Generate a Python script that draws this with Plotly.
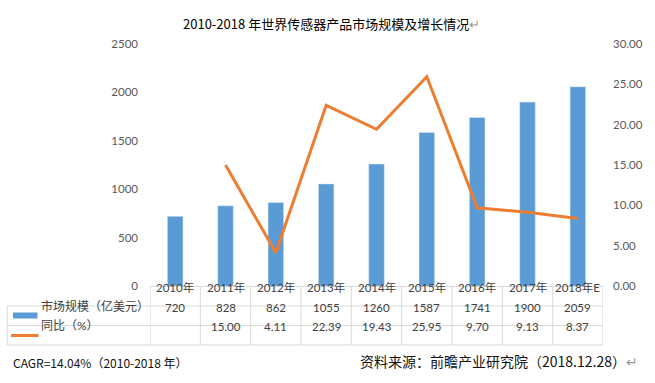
import plotly.graph_objects as go

years = ["2010年", "2011年", "2012年", "2013年", "2014年", "2015年", "2016年", "2017年", "2018年E"]
market = [720, 828, 862, 1055, 1260, 1587, 1741, 1900, 2059]
growth = [None, 15.00, 4.11, 22.39, 19.43, 25.95, 9.70, 9.13, 8.37]
growth_labels = ["", "15.00", "4.11", "22.39", "19.43", "25.95", "9.70", "9.13", "8.37"]
series_names = ["市场规模（亿美元）", "同比（%）"]
title_text = "2010-2018 年世界传感器产品市场规模及增长情况"
cagr_text = "CAGR=14.04%（2010-2018 年）"
source_text = "资料来源：前瞻产业研究院（2018.12.28）"

W, H = 655, 383
L, R, T, B = 150, 42, 44, 97
PW = W - L - R
PH = H - T - B

BLUE = "#5b9bd5"
ORANGE = "#ed7d31"
GRID = "#d9d9d9"
TXT = "#404040"
FONT = "Lato, Noto Sans CJK SC, sans-serif"
CJK = "Noto Sans CJK SC, sans-serif"

def py(px):  # pixel y -> paper y
    return (H - B - px) / PH

def pxp(px):  # pixel x -> paper x
    return (px - L) / PW

fig = go.Figure()
fig.add_trace(go.Bar(x=years, y=market, name=series_names[0], marker_color=BLUE,
                     yaxis="y", showlegend=False))
fig.add_trace(go.Scatter(x=years, y=growth, name=series_names[1], mode="lines",
                         line=dict(color=ORANGE, width=3), yaxis="y2",
                         showlegend=False, connectgaps=False))

shapes = []
top, r1, r2, r3 = 286, 306, 325.5, 345
for yy in (r1, r2, r3):
    shapes.append(dict(type="line", xref="paper", yref="paper", x0=pxp(4), x1=1,
                       y0=py(yy), y1=py(yy), line=dict(color=GRID, width=1)))
for i in range(len(years) + 1):
    shapes.append(dict(type="line", xref="x", yref="paper", x0=i - 0.5, x1=i - 0.5,
                       y0=py(top), y1=py(r3), line=dict(color=GRID, width=1)))
shapes.append(dict(type="line", xref="paper", yref="paper", x0=pxp(4), x1=pxp(4),
                   y0=py(r1), y1=py(r3), line=dict(color=GRID, width=1)))
# legend keys
shapes.append(dict(type="rect", xref="paper", yref="paper", x0=pxp(10), x1=pxp(35),
                   y0=py(318.5), y1=py(312.5), fillcolor=BLUE, line=dict(width=0)))
shapes.append(dict(type="line", xref="paper", yref="paper", x0=pxp(8), x1=pxp(36),
                   y0=py(335.5), y1=py(335.5), line=dict(color=ORANGE, width=3)))

ann = []
for i, yr in enumerate(years):
    ann.append(dict(x=yr, xref="x", y=py((top + r1) / 2), yref="paper", text=yr,
                    showarrow=False, font=dict(size=11.5, color=TXT, family=FONT)))
    ann.append(dict(x=yr, xref="x", y=py((r1 + r2) / 2), yref="paper", text=str(market[i]),
                    showarrow=False, font=dict(size=11.5, color=TXT, family=FONT)))
    ann.append(dict(x=yr, xref="x", y=py((r2 + r3) / 2), yref="paper", text=growth_labels[i],
                    showarrow=False, font=dict(size=11.5, color=TXT, family=FONT)))
ann.append(dict(x=pxp(37), xref="paper", y=py((r1 + r2) / 2), yref="paper", text=series_names[0],
                xanchor="left", showarrow=False, font=dict(size=12, color=TXT, family=FONT)))
ann.append(dict(x=pxp(37), xref="paper", y=py((r2 + r3) / 2), yref="paper", text=series_names[1],
                xanchor="left", showarrow=False, font=dict(size=12, color=TXT, family=FONT)))
# title
ann.append(dict(x=pxp(182), xref="paper", y=py(12), yref="paper",
                text=title_text + "<span style='color:#999999'>↵</span>",
                xanchor="left", showarrow=False,
                font=dict(size=13, color="#000000", family=CJK)))
ann.append(dict(x=pxp(8), xref="paper", y=py(373), yref="paper", text=cagr_text,
                xanchor="left", showarrow=False,
                font=dict(size=12, color="#111111", family=CJK)))
ann.append(dict(x=pxp(651), xref="paper", y=py(373), yref="paper",
                text=source_text + "<span style='color:#999999'>↵</span>",
                xanchor="right", showarrow=False,
                font=dict(size=14, color="#111111", family=CJK)))

fig.update_layout(
    width=W, height=H,
    margin=dict(l=L, r=R, t=T, b=B),
    paper_bgcolor="white", plot_bgcolor="white",
    bargap=0.69,
    xaxis=dict(type="category", showticklabels=False, showline=True, linecolor=GRID,
               ticks="", showgrid=False, zeroline=False, range=[-0.5, 8.5]),
    yaxis=dict(range=[0, 2500], dtick=500, showgrid=False, zeroline=False,
               tickfont=dict(size=11.5, color="#595959", family=FONT), ticklabelstandoff=11),
    yaxis2=dict(range=[0, 30], dtick=5, overlaying="y", side="right", showgrid=False,
                zeroline=False, tickformat=".2f",
                tickfont=dict(size=11.5, color="#595959", family=FONT), ticklabelstandoff=9),
    shapes=shapes, annotations=ann,
)

fig.write_html("out.html", config={"displayModeBar": False},
               post_script="document.body.style.margin='0px';")
